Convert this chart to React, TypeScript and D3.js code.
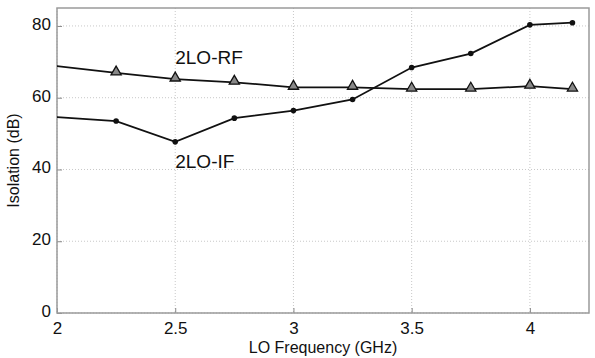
import * as d3 from "d3";
import { useEffect, useRef } from "react";

// --- data ---
const freqRF = [1.75, 2.25, 2.5, 2.75, 3.0, 3.25, 3.5, 3.75, 4.0, 4.18];
const isoRF = [70.7, 66.9, 65.2, 64.3, 62.9, 62.9, 62.4, 62.4, 63.2, 62.4];
const freqIF = [1.75, 2.25, 2.5, 2.75, 3.0, 3.25, 3.5, 3.75, 4.0, 4.18];
const isoIF = [55.7, 53.5, 47.7, 54.3, 56.4, 59.5, 68.4, 72.3, 80.3, 80.9];
const xTicks = [2, 2.5, 3, 3.5, 4];
const yTicks = [0, 20, 40, 60, 80];

const W = 595;
const H = 358;
const FONT = "'Liberation Sans', Arial, Helvetica, sans-serif";

export default function App() {
  const svgRef = useRef<SVGSVGElement | null>(null);
  useEffect(() => {
    if (!svgRef.current) return;
    drawChart(svgRef.current);
  }, []);
  return (
    <svg
      ref={svgRef}
      width={W}
      height={H}
      style={{ position: "absolute", left: 0, top: 0, background: "#fff" }}
    />
  );
}

function drawChart(svgElement: SVGSVGElement) {
  const svg = d3.select(svgElement);
  svg.selectAll("*").remove();

  const margin = { top: 8, right: 6, bottom: 45, left: 57 };
  const width = W - margin.left - margin.right;
  const height = H - margin.top - margin.bottom;

  const x = d3.scaleLinear().domain([2, 4.25]).range([0, width]);
  const y = d3.scaleLinear().domain([0, 85]).range([height, 0]);

  svg
    .append("defs")
    .append("clipPath")
    .attr("id", "plot-clip")
    .append("rect")
    .attr("width", width)
    .attr("height", height);

  const chart = svg
    .append("g")
    .attr("transform", `translate(${margin.left},${margin.top})`);

  // gridlines
  chart
    .append("g")
    .selectAll("line.gx")
    .data(xTicks)
    .join("line")
    .attr("x1", d => x(d))
    .attr("x2", d => x(d))
    .attr("y1", 0)
    .attr("y2", height)
    .attr("stroke", "#c8c8c8")
    .attr("stroke-dasharray", "1,2");

  chart
    .append("g")
    .selectAll("line.gy")
    .data(yTicks)
    .join("line")
    .attr("x1", 0)
    .attr("x2", width)
    .attr("y1", d => y(d))
    .attr("y2", d => y(d))
    .attr("stroke", "#c8c8c8")
    .attr("stroke-dasharray", "1,2");

  // axes (ticks point inward)
  const xAxis = chart
    .append("g")
    .attr("transform", `translate(0,${height})`)
    .call(d3.axisBottom(x).tickValues(xTicks).tickSize(-5).tickPadding(9).tickFormat(d3.format("~g")));
  const yAxis = chart
    .append("g")
    .call(d3.axisLeft(y).tickValues(yTicks).tickSize(-5).tickPadding(6));

  for (const ax of [xAxis, yAxis]) {
    ax.select(".domain").remove();
    ax.selectAll("line").attr("stroke", "#888");
    ax.selectAll("text")
      .style("font-size", "17px")
      .style("font-family", FONT)
      .attr("fill", "#111");
  }
  yAxis.selectAll("text").attr("dy", "0.2em");

  // frame
  chart
    .append("rect")
    .attr("width", width)
    .attr("height", height)
    .attr("fill", "none")
    .attr("stroke", "#9a9a9a")
    .attr("stroke-width", 1.5);

  const plot = chart.append("g").attr("clip-path", "url(#plot-clip)");

  const line = d3
    .line<[number, number]>()
    .x(d => x(d[0]))
    .y(d => y(d[1]));

  const rf: [number, number][] = freqRF.map((f, i) => [f, isoRF[i]]);
  const iff: [number, number][] = freqIF.map((f, i) => [f, isoIF[i]]);

  for (const s of [rf, iff]) {
    plot
      .append("path")
      .datum(s)
      .attr("d", line)
      .attr("fill", "none")
      .attr("stroke", "#111")
      .attr("stroke-width", 1.8);
  }

  // markers
  const tri = d3.symbol().type(d3.symbolTriangle).size(45);
  plot
    .selectAll("path.tri")
    .data(rf)
    .join("path")
    .attr("class", "tri")
    .attr("d", tri)
    .attr("transform", d => `translate(${x(d[0])},${y(d[1]) - 1})`)
    .attr("fill", "#888")
    .attr("stroke", "#111")
    .attr("stroke-width", 1.3);

  plot
    .selectAll("circle.dot")
    .data(iff)
    .join("circle")
    .attr("class", "dot")
    .attr("cx", d => x(d[0]))
    .attr("cy", d => y(d[1]))
    .attr("r", 2.8)
    .attr("fill", "#111");

  // series labels
  chart
    .append("text")
    .attr("x", x(2.5))
    .attr("y", y(69.5))
    .attr("text-anchor", "start")
    .style("font-size", "19px")
    .style("font-family", FONT)
    .attr("fill", "#111")
    .text("2LO-RF");

  chart
    .append("text")
    .attr("x", x(2.5))
    .attr("y", y(40.5))
    .attr("text-anchor", "start")
    .style("font-size", "19px")
    .style("font-family", FONT)
    .attr("fill", "#111")
    .text("2LO-IF");

  // axis titles
  svg
    .append("text")
    .attr("x", margin.left + width / 2)
    .attr("y", H - 5)
    .attr("text-anchor", "middle")
    .style("font-size", "16px")
    .style("font-family", FONT)
    .attr("fill", "#111")
    .text("LO Frequency (GHz)");

  svg
    .append("text")
    .attr("transform", `translate(19,${margin.top + height / 2}) rotate(-90)`)
    .attr("text-anchor", "middle")
    .style("font-size", "16px")
    .style("font-family", FONT)
    .attr("fill", "#111")
    .text("Isolation (dB)");
}
